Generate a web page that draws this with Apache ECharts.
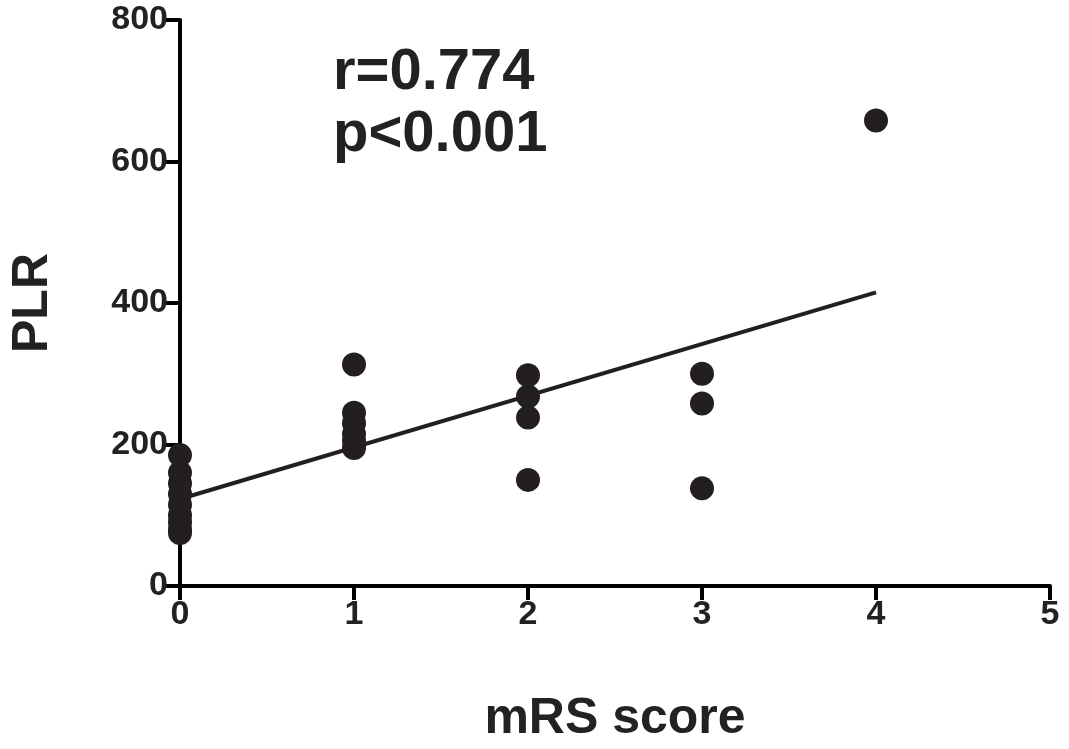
<!DOCTYPE html><html><head><meta charset="utf-8"><script src="https://cdn.jsdelivr.net/npm/echarts@6/dist/echarts.min.js"></script></head><body style="margin:0"><div id="c" style="width:1069px;height:749px"></div><script>
const xTicks=[0,1,2,3,4,5];
const yTicks=[0,200,400,600,800];
const mrs0=[185,160,145,130,115,100,90,80,75];
const mrs1=[313,245,230,215,205,195];
const mrs2=[298,268,238,150];
const mrs3=[300,258,138];
const mrs4=[658];
const fitLine=[[0,123],[4,415]];
const pts=[];
[mrs0,mrs1,mrs2,mrs3,mrs4].forEach((a,i)=>a.forEach(v=>pts.push([i,v])));
const font='Liberation Sans';
const ax={axisLine:{lineStyle:{color:'#000',width:4}},axisTick:{show:true,length:14,lineStyle:{color:'#000',width:4}},splitLine:{show:false},axisLabel:{color:'#222',fontSize:34,fontWeight:'bold',fontFamily:font,margin:12}};
const ch=echarts.init(document.getElementById('c'));
ch.setOption({animation:false,grid:{left:162,right:19,top:20,bottom:134},
xAxis:Object.assign({type:'value',min:0,max:5,interval:1,name:'mRS score',nameLocation:'middle',nameGap:108,nameTextStyle:{fontSize:50,fontWeight:'bold',fontFamily:font,color:'#222'}},ax),
yAxis:Object.assign({type:'value',min:0,max:800,interval:200,name:'PLR',nameLocation:'middle',nameGap:122,nameTextStyle:{fontSize:50,fontWeight:'bold',fontFamily:font,color:'#222'}},ax),
graphic:[{type:'text',left:333,top:42,style:{text:'r=0.774\np<0.001',font:'bold 58px "Liberation Sans"',fill:'#222',lineHeight:62}}],
series:[{type:'scatter',data:pts,symbolSize:24,itemStyle:{color:'#231f20',opacity:1}},
{type:'line',data:fitLine,symbol:'none',lineStyle:{color:'#231f20',width:4}}]});
</script></body></html>
